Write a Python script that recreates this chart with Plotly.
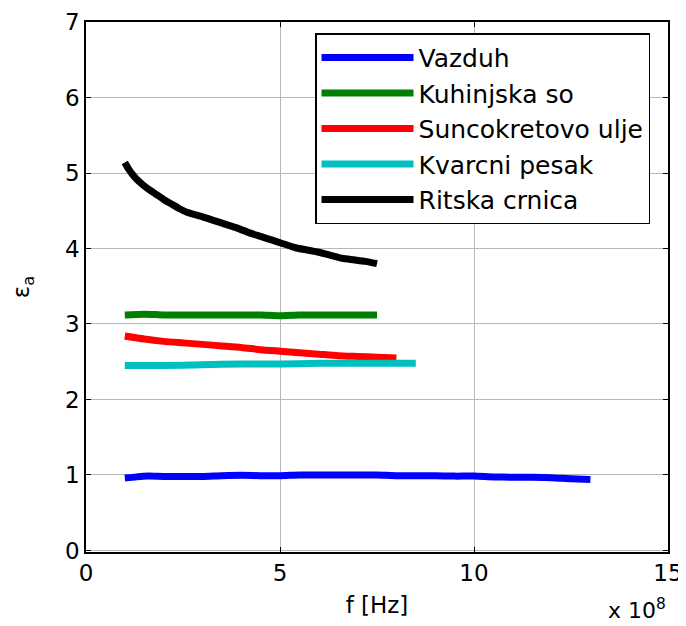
import plotly.graph_objects as go

# frequency in units of 10^8 Hz
f_vazduh = [1.0, 1.3, 1.6, 2.0, 2.5, 3.0, 3.5, 4.0, 4.5, 5.0, 5.5, 6.0, 6.5, 7.0, 7.5,
            8.0, 8.5, 9.0, 9.5, 10.0, 10.5, 11.0, 11.5, 12.0, 12.5, 13.0]
e_vazduh = [0.96, 0.975, 0.985, 0.98, 0.98, 0.98, 0.99, 0.995, 0.99, 0.99, 1.00, 1.00, 1.00, 1.00, 1.00,
            0.99, 0.99, 0.99, 0.985, 0.985, 0.975, 0.97, 0.97, 0.965, 0.95, 0.94]

f_so = [1.0, 1.5, 2.0, 2.5, 3.0, 3.5, 4.0, 4.5, 5.0, 5.5, 6.0, 6.5, 7.0, 7.5]
e_so = [3.12, 3.13, 3.12, 3.12, 3.12, 3.12, 3.12, 3.12, 3.11, 3.12, 3.12, 3.12, 3.12, 3.12]

f_ulje = [1.0, 1.5, 2.0, 2.5, 3.0, 3.5, 4.0, 4.5, 5.0, 5.5, 6.0, 6.5, 7.0, 7.5, 8.0]
e_ulje = [2.84, 2.80, 2.77, 2.75, 2.73, 2.71, 2.69, 2.66, 2.64, 2.62, 2.60, 2.58, 2.57, 2.56, 2.55]

f_pesak = [1.0, 2.0, 3.0, 4.0, 5.0, 6.0, 7.0, 8.0, 8.5]
e_pesak = [2.45, 2.45, 2.46, 2.47, 2.47, 2.48, 2.48, 2.48, 2.48]

f_crnica = [1.0, 1.1, 1.2, 1.3, 1.45, 1.6, 1.8, 2.0, 2.2, 2.4, 2.6, 2.8, 3.0, 3.3, 3.6, 3.9,
            4.2, 4.5, 4.8, 5.1, 5.4, 5.7, 6.0, 6.3, 6.6, 6.9, 7.2, 7.5]
e_crnica = [5.14, 5.05, 4.98, 4.92, 4.85, 4.79, 4.72, 4.65, 4.59, 4.53, 4.48, 4.45, 4.42, 4.37, 4.32, 4.27,
            4.21, 4.16, 4.11, 4.06, 4.01, 3.98, 3.95, 3.91, 3.87, 3.85, 3.83, 3.80]

x_ticks = [0, 5, 10, 15]
x_ticktext = ["0", "5", "10", "15"]
y_ticks = [0, 1, 2, 3, 4, 5, 6, 7]

series = [
    ("Vazduh", f_vazduh, e_vazduh, "#0000ff"),
    ("Kuhinjska so", f_so, e_so, "#008000"),
    ("Suncokretovo ulje", f_ulje, e_ulje, "#ff0000"),
    ("Kvarcni pesak", f_pesak, e_pesak, "#00bfbf"),
    ("Ritska crnica", f_crnica, e_crnica, "#000000"),
]

FONT = "DejaVu Sans, sans-serif"

fig = go.Figure()
for name, x, y, c in series:
    fig.add_trace(go.Scatter(x=x, y=y, mode="lines", name=name, legendgroup=name,
                             line=dict(color=c, width=7, shape="spline", smoothing=0.6)))

axis_common = dict(showline=True, linecolor="black", linewidth=1.5, mirror="ticks",
                   ticks="inside", ticklen=5, tickcolor="black",
                   showgrid=True, gridcolor="#b8b8b8", gridwidth=1,
                   zeroline=False, automargin=False,
                   tickfont=dict(family=FONT, size=23, color="black"))

fig.update_xaxes(range=[0, 15], tickvals=x_ticks, ticktext=x_ticktext,
                 title=dict(text="f [Hz]", font=dict(family=FONT, size=23, color="black"), standoff=12),
                 **axis_common)
fig.update_yaxes(range=[-0.02, 7], tickvals=y_ticks,
                 title=dict(text="ε<sub>a</sub>", font=dict(family=FONT, size=23, color="black"), standoff=32),
                 **axis_common)

fig.add_annotation(text="x 10<sup>8</sup>", xref="paper", yref="paper", x=1.0, y=-0.108,
                   xanchor="right", yanchor="middle", showarrow=False,
                   font=dict(family=FONT, size=22, color="black"))

# page body has an 8px margin, so the figure is 8px smaller than the window
fig.update_layout(
    width=678, height=618,
    margin=dict(l=78, r=18, t=14, b=74),
    paper_bgcolor="white", plot_bgcolor="white",
    font=dict(family=FONT, size=23, color="black"),
    legend=dict(x=0.3935, y=0.979, xanchor="left", yanchor="top",
                bordercolor="black", borderwidth=1.5, bgcolor="white",
                font=dict(family=FONT, size=25, color="black"),
                tracegroupgap=0, itemwidth=92),
)

fig.write_html("out.html")
